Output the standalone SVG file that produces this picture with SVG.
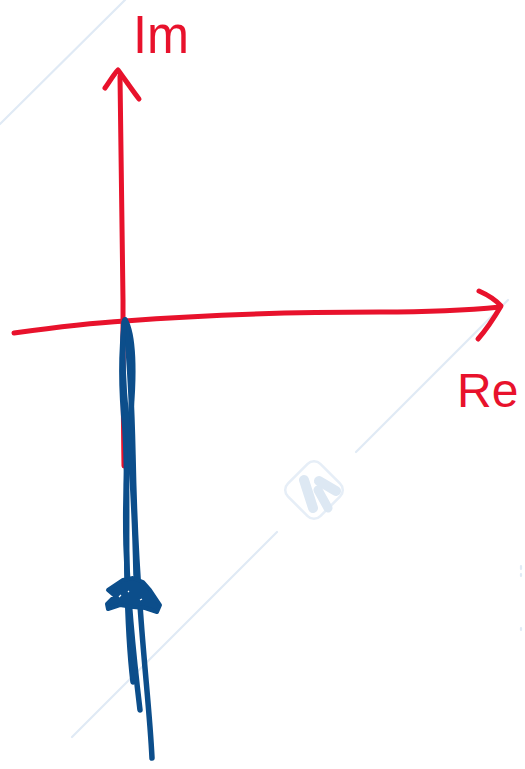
<svg xmlns="http://www.w3.org/2000/svg" width="525" height="769" viewBox="0 0 525 769">
<style>
.wm{fill:none;stroke:#e0eaf5;stroke-width:2.2;stroke-linecap:round}
.red{fill:none;stroke:#e8122c;stroke-width:5;stroke-linecap:round;stroke-linejoin:round}
.blue{fill:none;stroke:#0c4e8b;stroke-width:5.5;stroke-linecap:round;stroke-linejoin:round}
.head{fill:#0c4e8b;stroke:#0c4e8b;stroke-width:4;stroke-linejoin:round}
.lbl{fill:#e8122c;font-family:"Liberation Sans","DejaVu Sans",sans-serif}
</style>
<rect width="525" height="769" fill="#ffffff"/>
<g id="watermark">
<path class="wm" d="M125,0 L0,124"/>
<path class="wm" d="M508,300 L356,452"/>
<path class="wm" d="M277,532 L72,737"/>
<g transform="translate(314,490) rotate(45)">
<rect x="-23" y="-23" width="46" height="46" rx="9" fill="none" stroke="#e6eef7" stroke-width="2.5"/>
</g>
<path d="M304,480 L313,508" stroke="#dde8f3" stroke-width="10" stroke-linecap="round" fill="none"/>
<path d="M319,481 L336,491" stroke="#dde8f3" stroke-width="10" stroke-linecap="round" fill="none"/>
<path d="M318,490 L328,508" stroke="#dde8f3" stroke-width="9" stroke-linecap="round" fill="none"/>
<path class="wm" d="M521,566 v3 M521,574 v2 M521,628 v2"/>
</g>
<g id="axes">
<path id="im-axis" class="red" d="M124,466 C123,400 123,330 123,300 C122,230 121,150 120,76"/>
<path class="red" d="M105,88 C110,81 114,74 118,70 C124,78 132,90 139,99"/>
<path id="re-axis" class="red" d="M14,333 C50,328 90,323 125,321 C200,315 300,312 380,312 C430,312 470,310 500,307"/>
<path class="red" d="M479,291 C488,295 495,299 501,306 C494,318 486,330 478,339"/>
</g>
<g id="labels">
<text class="lbl" x="133" y="53" font-size="54" textLength="56" lengthAdjust="spacingAndGlyphs">Im</text>
<text class="lbl" x="457" y="407" font-size="48">Re</text>
</g>
<g id="locus">
<path class="blue" d="M125,320 C121,350 121,390 125,430 C128,480 126,530 127,580 C128,630 131,665 133,682"/>
<path class="blue" d="M125,320 C134,335 134,375 131,410 C127,450 125,500 126,545 C128,600 134,660 140,710"/>
<path class="blue" d="M126,324 C130,365 132,410 133,455 C134,505 136,555 140,605 C144,665 150,715 152,758"/>
<path class="blue" d="M124,322 C121,360 124,400 129,440 C133,480 135,530 136,575"/>
<path class="head" d="M108,590 L123,580 L133,578 L143,582 L150,590 L160,605 L157,612 L145,608 L133,607 L120,605 L108,609 L107,604 L115,596 Z"/>
<path d="M119,597 l2,-2 M140,600 l2,-1 M128,592 l1,-1" stroke="#ffffff" stroke-width="1.2" fill="none"/>
</g>
</svg>
